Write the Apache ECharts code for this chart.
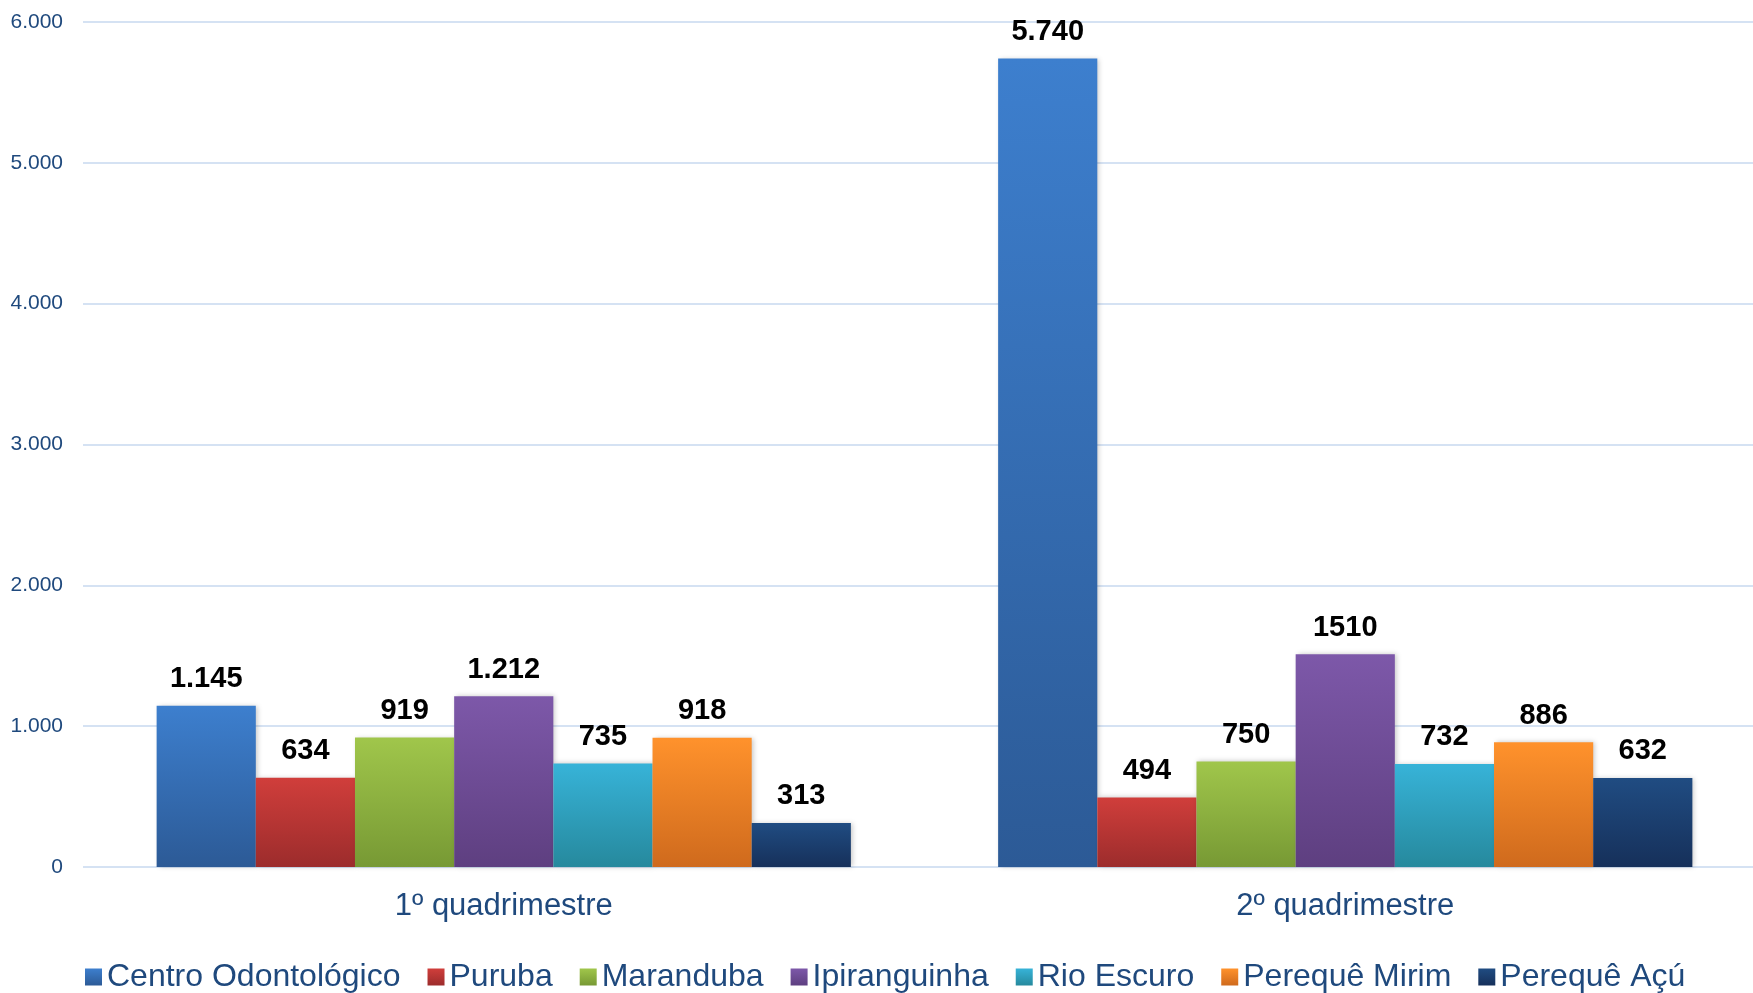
<!DOCTYPE html>
<html>
<head>
<meta charset="utf-8">
<script src="https://cdn.jsdelivr.net/npm/echarts@6/dist/echarts.min.js"></script>
<style>
html,body{margin:0;padding:0;background:#fff;overflow:hidden;width:1753px;height:993px;}
#chart{width:1766px;height:993px;}
</style>
</head>
<body>
<div id="chart"></div>
<script>
const categories = ['1º quadrimestre', '2º quadrimestre'];
const seriesNames = ['Centro Odontológico', 'Puruba', 'Maranduba', 'Ipiranguinha', 'Rio Escuro', 'Perequê Mirim', 'Perequê Açú'];
const q1Values = [1145, 634, 919, 1212, 735, 918, 313];
const q2Values = [5740, 494, 750, 1510, 732, 886, 632];
const q1Labels = ['1.145', '634', '919', '1.212', '735', '918', '313'];
const q2Labels = ['5.740', '494', '750', '1510', '732', '886', '632'];

const topColors = ['#3d7fce', '#d03e3b', '#a0c64b', '#7d58a9', '#37b3d8', '#ff922c', '#204c82'];
const bottomColors = ['#2c5a96', '#9c2c2c', '#779934', '#5e3f80', '#26899d', '#cf6a1d', '#16305a'];

const textBlue = '#1F497D';
const font = '"Liberation Sans", Arial, sans-serif';

function fmt(v) {
  return String(v).replace(/\B(?=(\d{3})+(?!\d))/g, '.');
}

const series = seriesNames.map((name, i) => ({
  name: name,
  type: 'bar',
  data: [q1Values[i], q2Values[i]],
  barGap: '0%',
  barCategoryGap: '17.5%',
  itemStyle: {
    color: new echarts.graphic.LinearGradient(0, 0, 0, 1, [
      { offset: 0, color: topColors[i] },
      { offset: 1, color: bottomColors[i] }
    ]),
    shadowColor: 'rgba(0,0,0,0.22)',
    shadowBlur: 5,
    shadowOffsetX: 2
  },
  label: {
    show: true,
    position: 'top',
    distance: 12,
    fontFamily: font,
    fontWeight: 'bold',
    fontSize: 29,
    color: '#000',
    formatter: p => (p.dataIndex === 0 ? q1Labels : q2Labels)[i]
  }
}));

const chart = echarts.init(document.getElementById('chart'), null, { renderer: 'canvas' });
chart.setOption({
  animation: false,
  backgroundColor: '#ffffff',
  grid: { left: 83, top: 22, bottom: 126, right: 0, containLabel: false },
  legend: {
    data: seriesNames,
    left: 80,
    top: 956,
    icon: 'rect',
    itemWidth: 17,
    itemHeight: 17,
    itemGap: 27,
    textStyle: { fontFamily: font, fontSize: 32, color: textBlue }
  },
  xAxis: {
    type: 'category',
    data: categories,
    axisLine: { show: false },
    axisTick: { show: false },
    axisLabel: { fontFamily: font, fontSize: 31, color: textBlue, margin: 24 }
  },
  yAxis: {
    type: 'value',
    min: 0,
    max: 6000,
    interval: 1000,
    axisLine: { show: false },
    axisTick: { show: false },
    axisLabel: { fontFamily: font, fontSize: 21, color: textBlue, margin: 20, formatter: v => fmt(v) },
    splitLine: { lineStyle: { color: '#d5e2f3', width: 2 } }
  },
  series: series
});
</script>
</body>
</html>
